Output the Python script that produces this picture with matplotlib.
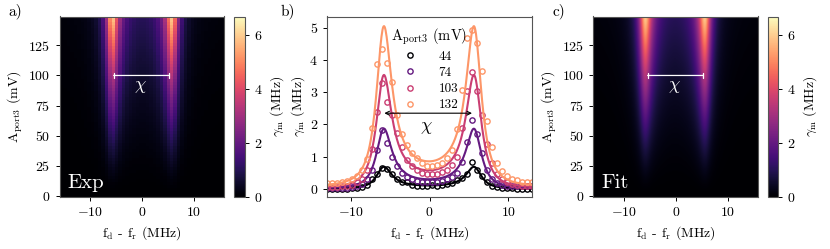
import numpy as np
import matplotlib
matplotlib.use('Agg')
import matplotlib.pyplot as plt
from matplotlib import cm

plt.rcParams['font.family'] = 'serif'
plt.rcParams['font.serif'] = ['cmr10']
plt.rcParams['mathtext.fontset'] = 'cm'
plt.rcParams['axes.formatter.use_mathtext'] = True
plt.rcParams['axes.unicode_minus'] = True

# amplitudes shown in panel b
amps = [44, 74, 103, 132]

# detuning grid of the measured line cuts (MHz)
freq = [-13.0, -12.37, -11.73, -11.10, -10.46, -9.83, -9.20, -8.56, -7.93, -7.29,
        -6.66, -6.02, -5.39, -4.76, -4.12, -3.49, -2.85, -2.22, -1.59, -0.95,
        -0.32, 0.32, 0.95, 1.59, 2.22, 2.85, 3.49, 4.12, 4.76, 5.39,
        6.02, 6.66, 7.29, 7.93, 8.56, 9.20, 9.83, 10.46, 11.10, 11.73,
        12.37, 13.0]

gamma_44 = [0.0, 0.0, 0.01, 0.01, 0.01, 0.02, 0.03, 0.07, 0.12, 0.30,
            0.45, 0.65, 0.62, 0.45, 0.30, 0.20, 0.20, 0.12, 0.10, 0.10,
            0.10, 0.11, 0.10, 0.12, 0.15, 0.18, 0.28, 0.35, 0.45, 0.85,
            0.60, 0.40, 0.22, 0.10, 0.05, 0.03, 0.02, 0.02, 0.01, 0.01,
            0.0, 0.0]
gamma_74 = [0.02, 0.02, 0.03, 0.03, 0.04, 0.06, 0.09, 0.15, 0.30, 0.60,
            1.20, 1.84, 1.42, 1.00, 0.70, 0.50, 0.38, 0.30, 0.25, 0.22,
            0.20, 0.20, 0.21, 0.24, 0.30, 0.38, 0.50, 0.85, 1.45, 2.14,
            1.70, 1.10, 0.60, 0.32, 0.18, 0.12, 0.10, 0.08, 0.08, 0.10,
            0.10, 0.08]
gamma_103 = [0.05, 0.06, 0.07, 0.08, 0.10, 0.13, 0.20, 0.32, 0.60, 1.25,
             2.40, 3.30, 2.70, 2.30, 1.75, 1.30, 0.90, 0.70, 0.58, 0.50,
             0.46, 0.45, 0.47, 0.52, 0.60, 0.75, 1.00, 1.90, 3.05, 3.62,
             3.05, 2.30, 1.40, 0.80, 0.45, 0.30, 0.20, 0.15, 0.12, 0.10,
             0.09, 0.08]
gamma_132 = [0.17, 0.18, 0.19, 0.20, 0.24, 0.30, 0.40, 0.60, 0.93, 1.90,
             3.87, 4.34, 3.90, 3.33, 2.30, 1.70, 1.35, 1.10, 0.95, 0.80,
             0.72, 0.72, 0.75, 0.82, 0.95, 1.20, 1.85, 3.07, 4.67, 4.93,
             4.52, 3.67, 2.10, 1.30, 0.80, 0.55, 0.40, 0.30, 0.27, 0.22,
             0.20, 0.20]
gamma_data = [gamma_44, gamma_74, gamma_103, gamma_132]

# fitted double-resonance parameters
f_left = -5.9
f_right = 5.75
width = 1.2
peak_h = [0.68, 1.85, 3.5, 5.0]
base = [0.0, 0.01, 0.03, 0.08]
h_exp = 1.5          # peak height ~ A^h_exp for the maps
A_ref = 132
chi_l, chi_r = -5.4, 5.2
vmax = 6.68


def shape(f):
    p = 1.0 / (((f - f_left)**2 + width**2) * ((f - f_right)**2 + width**2))
    pk = 1.0 / (width**2 * ((f_right - f_left)**2 + width**2))
    return p / pk


def gmap(f, A):
    h = peak_h[-1] * (A / A_ref)**h_exp
    b = base[-1] * (A / A_ref)**2
    return (h - b) * shape(f) + b


colors = cm.magma([0.0, 0.3, 0.55, 0.78])

fig = plt.figure(figsize=(8.3, 2.49), dpi=100)
W, H = 830, 249


def px_axes(l, r, t, b):
    return fig.add_axes([l / W, 1 - b / H, (r - l) / W, (b - t) / H])


ax_a = px_axes(59.5, 224, 16.5, 197)
cax_a = px_axes(234, 245, 16.5, 197)
ax_b = px_axes(327, 532, 16.5, 197)
ax_c = px_axes(593.3, 758.3, 16.5, 197)
cax_c = px_axes(767.5, 778, 16.5, 197)

ext = [-15.8, 15.8, -1, 149]

# exp map (coarse pixels)
fe = np.linspace(-15.5, 15.5, 48)
Ae = np.linspace(0, 148, 60)
FE, AE = np.meshgrid(fe, Ae)
im_a = ax_a.imshow(gmap(FE, AE), origin='lower', extent=ext, aspect='auto',
                   cmap='magma', vmin=0, vmax=vmax, interpolation='nearest')
# fit map
ff = np.linspace(-15.8, 15.8, 300)
Af = np.linspace(0, 148, 150)
FF, AF = np.meshgrid(ff, Af)
im_c = ax_c.imshow(gmap(FF, AF), origin='lower', extent=ext, aspect='auto',
                   cmap='magma', vmin=0, vmax=vmax, interpolation='bilinear')

for ax, cax, im, tag in [(ax_a, cax_a, im_a, 'Exp'), (ax_c, cax_c, im_c, 'Fit')]:
    ax.set_xlim(-15.8, 15.8)
    ax.set_ylim(-1, 149)
    ax.set_xticks([-10, 0, 10])
    ax.set_yticks([0, 25, 50, 75, 100, 125])
    ax.set_xlabel(r'$\mathrm{f_d}$ - $\mathrm{f_r}$ (MHz)', fontsize=10)
    ax.set_ylabel(r'$\mathrm{A_{port3}}$ (mV)', fontsize=10, labelpad=2)
    ax.annotate('', xy=(chi_r, 100), xytext=(chi_l, 100),
                arrowprops=dict(arrowstyle='|-|, widthA=0.2, widthB=0.2',
                                color='white', lw=0.9, shrinkA=0, shrinkB=0))
    ax.text(-0.3, 90, r'$\chi$', color='white', fontsize=13, ha='center', va='center')
    ax.text(0.05, 0.03, tag, transform=ax.transAxes, color='white', fontsize=15,
            ha='left', va='bottom')
    cb = fig.colorbar(im, cax=cax)
    cb.set_ticks([0, 2, 4, 6])
    cb.set_label(r'$\gamma_\mathrm{m}$ (MHz)', fontsize=10)
    cb.ax.tick_params(labelsize=10, length=3, width=0.7)
    cb.outline.set_edgecolor('#555555')
    cb.outline.set_linewidth(0.8)

# panel b
fl = np.linspace(-13, 13, 400)
for a, g, h, b0, col in zip(amps, gamma_data, peak_h, base, colors):
    ax_b.plot(freq, g, 'o', mfc='none', mec=col, ms=3.8, mew=1.0, label=str(a))
    ax_b.plot(fl, (h - b0) * shape(fl) + b0, '-', color=col, lw=1.5)
ax_b.set_xlim(-13, 13)
ax_b.set_ylim(-0.25, 5.35)
ax_b.set_xticks([-10, 0, 10])
ax_b.set_yticks([0, 1, 2, 3, 4, 5])
ax_b.set_xlabel(r'$\mathrm{f_d}$ - $\mathrm{f_r}$ (MHz)', fontsize=10)
ax_b.set_ylabel(r'$\gamma_\mathrm{m}$ (MHz)', fontsize=10, labelpad=2)
ax_b.annotate('', xy=(5.39, 2.35), xytext=(-5.73, 2.35),
              arrowprops=dict(arrowstyle='<->', color='black', lw=0.8,
                              shrinkA=0, shrinkB=0, mutation_scale=7))
ax_b.text(-0.4, 1.9, r'$\chi$', fontsize=13, ha='center', va='center')
leg = ax_b.legend(title=r'$\mathrm{A_{port3}}$ (mV)', loc='upper center',
                  bbox_to_anchor=(0.5, 0.99), frameon=False, fontsize=9.5,
                  title_fontsize=10.5, handletextpad=1.4, labelspacing=0.3,
                  borderaxespad=0.2, handlelength=1.5)
for t in leg.get_texts():
    t.set_ha('left')

for ax in [ax_a, ax_b, ax_c]:
    ax.tick_params(labelsize=10, length=3, width=0.7, direction='out')
    for s in ax.spines.values():
        s.set_edgecolor('#555555')
        s.set_linewidth(0.8)

fig.text(8 / W, 1 - 3 / H, 'a)', fontsize=11, va='top', ha='left')
fig.text(281 / W, 1 - 3 / H, 'b)', fontsize=11, va='top', ha='left')
fig.text(552 / W, 1 - 3 / H, 'c)', fontsize=11, va='top', ha='left')

fig.savefig('out.png', dpi=100)
